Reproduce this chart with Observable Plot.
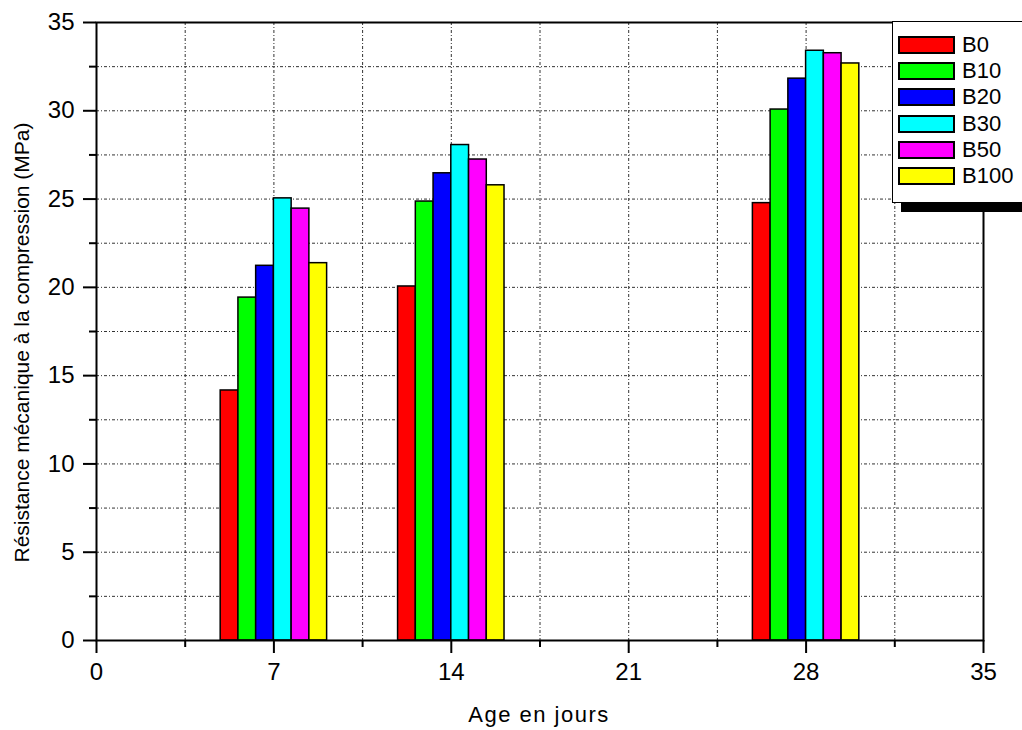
<!DOCTYPE html>
<html>
<head>
<meta charset="utf-8">
<script src="https://cdn.jsdelivr.net/npm/d3@7"></script>
<script src="https://cdn.jsdelivr.net/npm/@observablehq/plot@0.6"></script>
<style>
  html, body { margin: 0; padding: 0; background: #fff; overflow: hidden; width: 1022px; height: 730px; }
  #wrap { position: relative; width: 1022px; height: 730px; font-family: "Liberation Sans", Arial, sans-serif; }
  #legend { position: absolute; left: 892px; top: 21px; width: 150px; height: 170.5px; border: 1.5px solid #000; background: #fff; box-shadow: 9px 9px 0 #000; padding-top: 9.5px; padding-left: 5px; box-sizing: content-box; }
  .row { display: flex; align-items: center; height: 26.3px; }
  .sw { width: 57px; height: 18px; box-sizing: border-box; border: 2px solid #000; }
  .lb { margin-left: 7px; font-size: 22px; line-height: 1; color: #000; }
</style>
</head>
<body>
<div id="wrap"></div>
<script>
// ---- data ----
const days = [7, 14, 28];
const series = ["B0", "B10", "B20", "B30", "B50", "B100"];
const colors = ["#ff0000", "#00ff00", "#0000ff", "#00ffff", "#ff00ff", "#ffff00"];
const B0   = [14.16, 20.05, 24.77];
const B10  = [19.42, 24.86, 30.07];
const B20  = [21.22, 26.46, 31.82];
const B30  = [25.04, 28.06, 33.40];
const B50  = [24.46, 27.24, 33.26];
const B100 = [21.37, 25.78, 32.68];
const xMajorTicks = [0, 7, 14, 21, 28, 35];
const xMinorTicks = [3.5, 10.5, 17.5, 24.5, 31.5];
const yMajorTicks = [0, 5, 10, 15, 20, 25, 30, 35];
const yMinorTicks = [2.5, 7.5, 12.5, 17.5, 22.5, 27.5, 32.5];
const xTitle = "Age en jours";
const yTitle = "Résistance mécanique à la compression (MPa)";

// ---- build table ----
const valueSets = [B0, B10, B20, B30, B50, B100];
const barW = 0.7;
const table = [];
series.forEach((s, i) => {
  days.forEach((d, j) => {
    const x1 = d - (series.length * barW) / 2 + i * barW;
    table.push({series: s, day: d, value: valueSets[i][j], x1, x2: x1 + barW});
  });
});
const gridX = [...xMinorTicks, ...xMajorTicks.filter(t => t > 0 && t < 35)].sort((a, b) => a - b);
const gridY = [...yMinorTicks, ...yMajorTicks.filter(t => t > 0 && t < 35)].sort((a, b) => a - b);

const chart = Plot.plot({
  width: 1022,
  height: 730,
  marginLeft: 96,
  marginRight: 39,
  marginTop: 22,
  marginBottom: 90,
  style: {fontFamily: '"Liberation Sans", Arial, sans-serif', fontSize: "24px", background: "transparent", color: "#000"},
  x: {type: "linear", domain: [0, 35]},
  y: {type: "linear", domain: [0, 35]},
  color: {domain: series, range: colors},
  marks: [
    Plot.gridX(gridX, {stroke: "#333", strokeOpacity: 1, strokeWidth: 1, strokeDasharray: "3,2,1,2"}),
    Plot.gridY(gridY, {stroke: "#333", strokeOpacity: 1, strokeWidth: 1, strokeDasharray: "3,2,1,2"}),
    Plot.rectY(table, {x1: "x1", x2: "x2", y1: 0, y2: "value", fill: "series", stroke: "#000", strokeWidth: 1.5}),
    Plot.axisX(xMajorTicks, {tickSize: 13, tickPadding: 9, strokeWidth: 2, fontSize: 24, tickFormat: d => String(d), label: null}),
    Plot.axisX(xMinorTicks, {tickSize: 7, strokeWidth: 2, tickFormat: () => "", label: null}),
    Plot.axisY(yMajorTicks, {tickSize: 13, tickPadding: 9, strokeWidth: 2, fontSize: 24, tickFormat: d => String(d), label: null}),
    Plot.axisY(yMinorTicks, {tickSize: 7, strokeWidth: 2, tickFormat: () => "", label: null}),
    Plot.frame({stroke: "#000", strokeWidth: 2}),
    Plot.text([xTitle], {text: d => d, frameAnchor: "bottom", dy: 81, dx: -1, lineAnchor: "bottom", fontSize: 22, fill: "#000", className: "xtitle"}),
    Plot.text([yTitle], {text: d => d, frameAnchor: "left", rotate: -90, dx: -68, dy: 11, lineAnchor: "bottom", textAnchor: "middle", fontSize: 21, fill: "#000"})
  ]
});
const wrap = document.getElementById("wrap");
wrap.appendChild(chart);
chart.querySelectorAll(".xtitle text").forEach(t => t.style.letterSpacing = "1.5px");

// ---- legend (overlaid, as in the reference) ----
const legend = document.createElement("div");
legend.id = "legend";
series.forEach((s, i) => {
  const row = document.createElement("div");
  row.className = "row";
  const sw = document.createElement("div");
  sw.className = "sw";
  sw.style.background = colors[i];
  const lb = document.createElement("span");
  lb.className = "lb";
  lb.textContent = s;
  row.appendChild(sw);
  row.appendChild(lb);
  legend.appendChild(row);
});
wrap.appendChild(legend);
chart.style.position = "absolute";
chart.style.left = "0px";
chart.style.top = "0px";
</script>
</body>
</html>
